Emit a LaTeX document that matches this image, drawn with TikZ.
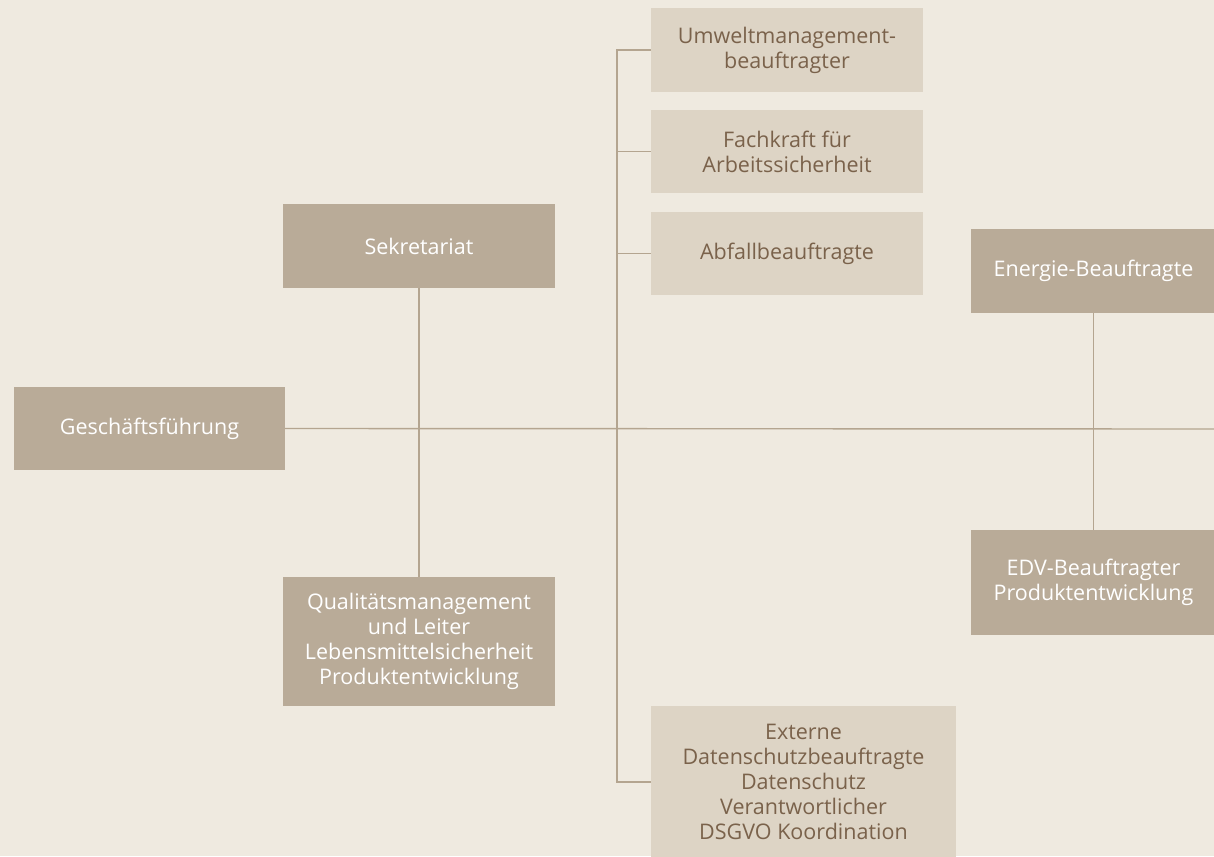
\documentclass[tikz,border=0pt]{standalone}
\usepackage{fontspec}
\setmainfont{Open Sans}
\usetikzlibrary{positioning,calc}
\definecolor{paper}{HTML}{EFEAE0}
\definecolor{taupe}{HTML}{B9AB98}
\definecolor{sandbox}{HTML}{DDD4C5}
\definecolor{bark}{HTML}{7A624B}
\definecolor{wire}{HTML}{B4A590}

\begin{document}
\begin{tikzpicture}[x=1pt,y=-1pt,
  box/.style={rectangle,align=center,inner sep=2pt,font=\fontsize{21.5}{25}\selectfont},
  dark/.style={box,fill=taupe,text=white},
  light/.style={box,fill=sandbox,text=bark},
  link/.style={draw=wire,line width=1.4pt}]
\fill[paper] (0,0) rectangle (1214,856);
\useasboundingbox (0,0) rectangle (1214,856);
% left part
\node[dark,minimum width=271pt,minimum height=83pt] (gf) at (149.5,428.5) {Geschäftsführung};
\node[dark,minimum width=272pt,minimum height=84pt] (sek) at (419,246) {Sekretariat};
\node[dark,minimum width=272pt,minimum height=129pt] (qm) at (419,641.5) {Qualitätsmanagement\\und Leiter\\Lebensmittelsicherheit\\Produktentwicklung};
% middle column
\node[light,minimum width=272pt,minimum height=84pt] (umw) at (787,50) {Umweltmanagement-\\beauftragter};
\node[light,minimum width=272pt,minimum height=83pt] (fak) at (787,151.5) {Fachkraft für\\Arbeitssicherheit};
\node[light,minimum width=272pt,minimum height=83pt] (abf) at (787,253.5) {Abfallbeauftragte};
\node[light,minimum width=305pt,minimum height=152pt] (ext) at (803.5,782) {Externe\\Datenschutzbeauftragte\\Datenschutz\\Verantwortlicher\\DSGVO Koordination};
% right part
\node[dark,minimum width=245pt,minimum height=84pt] (ene) at (1093.5,271) {Energie-Beauftragte};
\node[dark,minimum width=245pt,minimum height=105pt] (edv) at (1093.5,582.5) {EDV-Beauftragter\\Produktentwicklung};
\coordinate (spine) at (617,429);
\coordinate (rim) at (1214,429);
% lines
\draw[link] (gf.east) -- (rim);
\draw[link] (sek.south) -- (qm.north);
\draw[link] (umw.west) -| (spine) |- (ext.west);
\draw[link] (fak.west) -- (fak.west -| spine);
\draw[link] (abf.west) -- (abf.west -| spine);
\draw[link] (ene.south) -- (edv.north);
\end{tikzpicture}
\end{document}
